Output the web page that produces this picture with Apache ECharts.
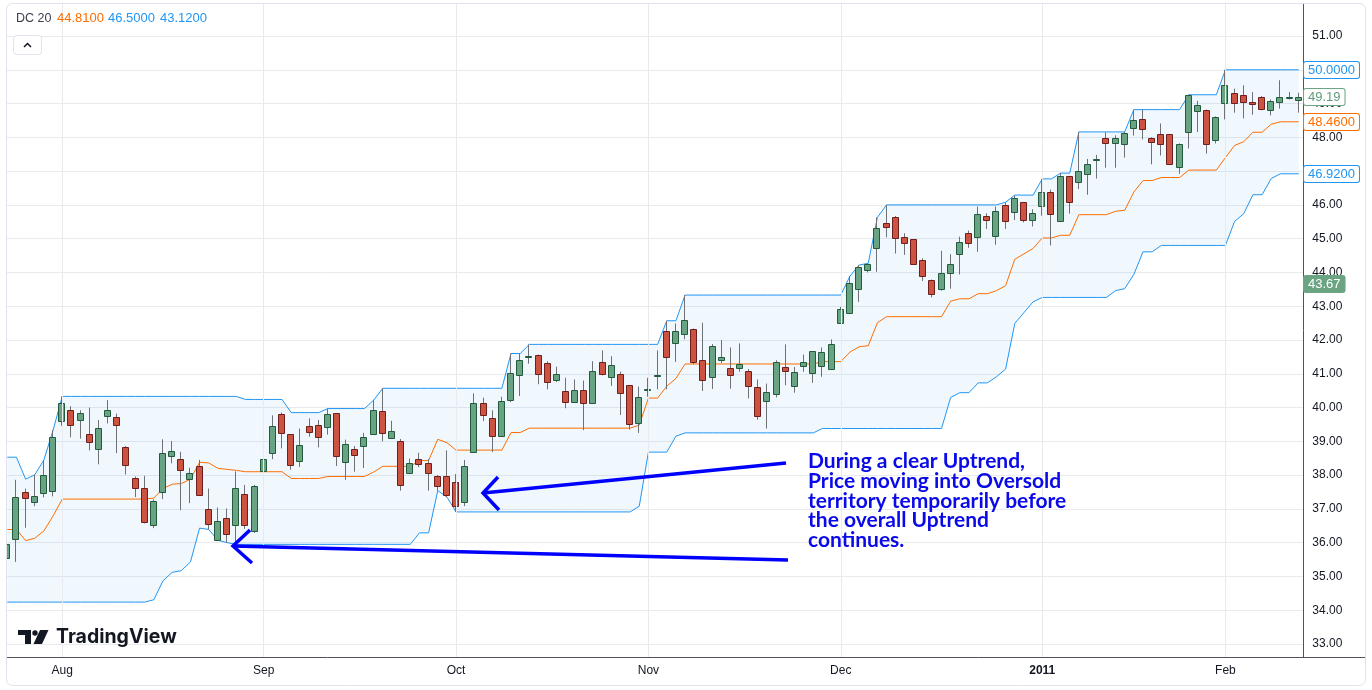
<!DOCTYPE html>
<html>
<head>
<meta charset="utf-8">
<title>DC 20</title>
<script src="https://cdn.jsdelivr.net/npm/echarts@6/dist/echarts.min.js"></script>
<style>
  html, body { margin: 0; padding: 0; background: #fff; }
  #chart { width: 1372px; height: 690px; }
</style>
</head>
<body>
<div id="chart"></div>
<script>
// trading days shown on the chart
const dates = [
  '2010-07-23','2010-07-26','2010-07-27','2010-07-28','2010-07-29','2010-07-30',
  '2010-08-02','2010-08-03','2010-08-04','2010-08-05','2010-08-06','2010-08-09','2010-08-10','2010-08-11','2010-08-12','2010-08-13',
  '2010-08-16','2010-08-17','2010-08-18','2010-08-19','2010-08-20','2010-08-23','2010-08-24','2010-08-25','2010-08-26','2010-08-27',
  '2010-08-30','2010-08-31',
  '2010-09-01','2010-09-02','2010-09-03','2010-09-07','2010-09-08','2010-09-09','2010-09-10','2010-09-13','2010-09-14','2010-09-15',
  '2010-09-16','2010-09-17','2010-09-20','2010-09-21','2010-09-22','2010-09-23','2010-09-24','2010-09-27','2010-09-28','2010-09-29','2010-09-30',
  '2010-10-01','2010-10-04','2010-10-05','2010-10-06','2010-10-07','2010-10-08','2010-10-11','2010-10-12','2010-10-13','2010-10-14',
  '2010-10-15','2010-10-18','2010-10-19','2010-10-20','2010-10-21','2010-10-22','2010-10-25','2010-10-26','2010-10-27','2010-10-28','2010-10-29',
  '2010-11-01','2010-11-02','2010-11-03','2010-11-04','2010-11-05','2010-11-08','2010-11-09','2010-11-10','2010-11-11','2010-11-12',
  '2010-11-15','2010-11-16','2010-11-17','2010-11-18','2010-11-19','2010-11-22','2010-11-23','2010-11-24','2010-11-26','2010-11-29','2010-11-30',
  '2010-12-01','2010-12-02','2010-12-03','2010-12-06','2010-12-07','2010-12-08','2010-12-09','2010-12-10','2010-12-13','2010-12-14',
  '2010-12-15','2010-12-16','2010-12-17','2010-12-20','2010-12-21','2010-12-22','2010-12-23','2010-12-27','2010-12-28','2010-12-29','2010-12-30','2010-12-31',
  '2011-01-03','2011-01-04','2011-01-05','2011-01-06','2011-01-07','2011-01-10','2011-01-11','2011-01-12','2011-01-13','2011-01-14',
  '2011-01-18','2011-01-19','2011-01-20','2011-01-21','2011-01-24','2011-01-25','2011-01-26','2011-01-27','2011-01-28','2011-01-31',
  '2011-02-01','2011-02-02','2011-02-03','2011-02-04','2011-02-07','2011-02-08','2011-02-09','2011-02-10','2011-02-11'
];

const open = [
  35.54,36.12,37.50,37.21,37.47,37.53,39.59,39.94,39.62,39.21,
  38.76,39.75,39.71,38.82,37.91,37.62,36.53,37.50,38.57,38.47,
  37.88,38.26,37.00,36.09,36.74,36.51,37.44,36.36,38.13,38.66,
  39.82,39.21,38.41,39.44,39.47,39.43,39.83,38.39,38.76,38.87,
  39.22,39.89,39.09,39.01,38.05,38.49,38.37,37.98,37.98,37.79,
  37.20,38.69,40.13,39.70,39.15,40.22,40.97,41.50,41.57,41.31,
  40.81,40.48,40.17,40.53,40.14,41.36,40.91,41.00,40.67,39.53,
  40.52,40.95,42.27,41.90,42.19,42.34,41.40,40.89,41.42,41.16,
  41.16,41.07,40.61,40.19,40.39,41.21,40.65,41.24,41.01,41.22,
  41.14,42.49,42.81,43.50,44.06,44.71,45.46,45.63,45.06,44.98,
  44.37,43.79,43.51,43.97,44.56,45.16,45.04,45.67,45.07,46.00,
  45.78,46.08,45.54,45.97,46.38,45.51,46.86,46.69,46.91,47.33,
  47.97,47.84,47.79,48.28,48.53,47.97,48.09,48.09,47.13,48.16,
  48.78,48.82,47.92,49.03,49.32,49.26,49.06,49.19,48.82,49.05,
  49.19,49.10
];
const high = [
  36.64,37.86,37.60,38.01,38.45,39.33,40.33,40.04,39.92,40.00,
  39.63,40.22,39.82,38.86,37.96,37.98,37.28,39.06,39.01,38.69,
  38.22,38.45,37.60,37.04,37.01,38.11,37.71,37.71,38.63,39.77,
  39.85,39.21,39.38,39.68,39.63,39.97,39.83,39.05,38.86,39.25,
  40.22,40.57,39.61,39.07,38.49,38.66,38.47,38.00,38.73,38.03,
  38.45,40.42,40.29,39.92,40.32,41.60,41.60,41.87,41.57,41.37,
  41.21,40.88,40.83,40.80,41.37,41.69,41.52,41.06,40.67,40.62,
  40.88,41.69,42.57,42.49,43.33,42.34,42.51,41.88,42.00,41.78,
  41.90,41.14,40.83,40.71,41.40,41.87,41.20,41.57,41.66,41.78,
  42.02,42.98,43.89,44.22,44.27,45.63,46.00,45.67,45.16,44.98,
  44.42,43.79,44.64,44.54,45.06,45.24,45.95,45.75,45.95,46.07,
  46.28,46.08,45.87,46.77,46.45,46.94,46.86,48.16,47.36,47.48,
  48.15,48.06,48.16,48.82,48.82,48.00,48.41,48.09,47.82,49.26,
  49.08,48.82,48.62,50.00,49.44,49.54,49.34,49.22,49.12,49.69,
  49.34,49.32
];
const low = [
  35.17,35.43,36.44,37.08,37.34,37.37,39.46,39.12,39.08,38.73,
  38.32,39.53,38.65,38.02,37.35,36.57,36.43,37.29,38.35,36.96,
  37.17,37.38,36.39,36.07,36.00,35.95,36.41,36.29,37.65,38.47,
  38.79,38.16,38.24,39.14,38.82,39.20,38.27,37.86,38.10,38.21,
  39.19,39.00,39.09,37.54,38.05,38.24,37.54,37.54,37.35,36.91,
  37.08,38.69,39.60,38.68,39.15,40.16,40.34,41.30,40.69,40.54,
  40.75,39.98,40.17,39.33,40.12,40.95,40.64,39.78,39.35,39.25,
  40.32,40.54,40.54,41.35,42.02,41.28,40.49,40.55,41.32,40.56,
  41.06,40.27,39.64,39.38,40.30,40.66,40.44,41.06,40.73,40.91,
  41.14,42.49,42.81,43.13,44.00,44.02,45.04,44.56,44.52,44.24,
  43.75,43.26,43.46,43.52,43.94,44.73,44.61,45.29,44.82,45.29,
  45.55,45.48,45.36,45.68,44.80,45.51,45.74,46.47,46.30,46.78,
  47.10,47.10,47.40,48.05,47.94,47.20,47.46,47.20,46.92,47.67,
  48.16,47.52,47.82,48.53,48.73,48.56,48.67,48.80,48.65,48.85,
  49.12,48.73
];
const close = [
  35.97,37.35,37.32,37.38,38.00,39.12,40.12,39.47,39.85,38.98,
  39.38,39.94,39.47,38.29,37.62,36.62,37.24,38.65,38.71,38.16,
  38.05,37.41,36.56,36.64,36.25,37.62,36.52,37.67,38.47,39.45,
  39.24,38.29,38.88,39.29,39.13,39.82,38.57,38.93,38.60,39.13,
  39.92,39.25,39.31,37.72,38.37,38.34,38.05,37.69,37.41,37.10,
  38.28,40.13,39.78,39.15,40.20,41.01,41.42,41.52,41.00,40.76,
  41.00,40.17,40.51,40.14,41.09,41.00,41.27,40.44,39.50,40.32,
  40.54,40.97,41.51,42.28,42.58,41.35,40.83,41.81,41.51,40.95,
  41.30,40.65,39.74,40.46,41.36,41.07,41.04,41.35,41.66,41.63,
  41.87,42.93,43.70,44.15,44.24,45.31,45.34,45.01,44.86,44.24,
  43.89,43.36,43.97,44.24,44.89,44.86,45.72,45.54,45.81,45.51,
  46.20,45.54,45.75,46.38,45.73,46.86,46.08,47.00,47.20,47.35,
  47.82,47.97,48.14,48.50,48.26,47.85,47.79,47.20,47.79,49.26,
  48.97,47.79,48.59,49.56,49.03,49.05,49.00,48.85,49.09,49.19,
  49.20,49.19
];

// Donchian channel (20) as plotted
const dcUpper = [
  38.53,38.53,37.88,38.01,38.45,39.33,40.33,40.33,40.33,40.33,
  40.33,40.33,40.33,40.33,40.33,40.33,40.33,40.33,40.33,40.33,
  40.33,40.33,40.33,40.33,40.33,40.33,40.24,40.24,40.24,40.24,
  40.24,39.85,39.85,39.85,39.85,39.97,39.97,39.97,39.97,39.97,
  40.22,40.57,40.57,40.57,40.57,40.57,40.57,40.57,40.57,40.57,
  40.57,40.57,40.57,40.57,40.57,41.60,41.60,41.87,41.87,41.87,
  41.87,41.87,41.87,41.87,41.87,41.87,41.87,41.87,41.87,41.87,
  41.87,41.87,42.57,42.57,43.33,43.33,43.33,43.33,43.33,43.33,
  43.33,43.33,43.33,43.33,43.33,43.33,43.33,43.33,43.33,43.33,
  43.33,43.33,43.89,44.22,44.27,45.63,46.00,46.00,46.00,46.00,
  46.00,46.00,46.00,46.00,46.00,46.00,46.00,46.00,46.00,46.08,
  46.29,46.29,46.29,46.77,46.77,46.94,46.94,48.16,48.16,48.16,
  48.16,48.16,48.16,48.82,48.82,48.82,48.82,48.82,48.82,49.26,
  49.26,49.26,49.26,50.00,50.00,50.00,50.00,50.00,50.00,50.00,
  50.00,50.00
];
const dcLower = [
  34.24,34.24,34.24,34.24,34.24,34.24,34.24,34.24,34.24,34.24,
  34.24,34.24,34.24,34.24,34.24,34.24,34.31,34.87,35.12,35.17,
  35.43,36.43,36.39,36.07,36.00,35.95,35.95,35.95,35.95,35.95,
  35.95,35.95,35.95,35.95,35.95,35.95,35.95,35.95,35.95,35.95,
  35.95,35.95,35.95,35.95,35.95,36.29,36.29,37.54,37.35,36.91,
  36.91,36.91,36.91,36.91,36.91,36.91,36.91,36.91,36.91,36.91,
  36.91,36.91,36.91,36.91,36.91,36.91,36.91,36.91,36.91,37.08,
  38.68,38.68,38.68,39.15,39.25,39.25,39.25,39.25,39.25,39.25,
  39.25,39.25,39.25,39.25,39.25,39.25,39.25,39.25,39.25,39.38,
  39.38,39.38,39.38,39.38,39.38,39.38,39.38,39.38,39.38,39.38,
  39.38,39.38,39.38,40.30,40.44,40.44,40.73,40.73,40.91,41.14,
  42.49,42.81,43.13,43.26,43.26,43.26,43.26,43.26,43.26,43.26,
  43.26,43.46,43.52,43.94,44.61,44.61,44.80,44.80,44.80,44.80,
  44.80,44.80,44.80,44.80,45.51,45.74,46.30,46.30,46.78,46.92,
  46.92,46.92
];
const dcBasis = [
  36.39,36.39,36.06,36.13,36.35,36.79,37.29,37.29,37.29,37.29,
  37.29,37.29,37.29,37.29,37.29,37.29,37.32,37.60,37.73,37.75,
  37.88,38.38,38.36,38.20,38.17,38.14,38.10,38.10,38.10,38.10,
  38.10,37.90,37.90,37.90,37.90,37.96,37.96,37.96,37.96,37.96,
  38.09,38.26,38.26,38.26,38.26,38.43,38.43,39.06,38.96,38.74,
  38.74,38.74,38.74,38.74,38.74,39.26,39.26,39.39,39.39,39.39,
  39.39,39.39,39.39,39.39,39.39,39.39,39.39,39.39,39.39,39.48,
  40.28,40.28,40.63,40.86,41.29,41.29,41.29,41.29,41.29,41.29,
  41.29,41.29,41.29,41.29,41.29,41.29,41.29,41.29,41.29,41.36,
  41.36,41.36,41.64,41.80,41.83,42.51,42.69,42.69,42.69,42.69,
  42.69,42.69,42.69,43.15,43.22,43.22,43.37,43.37,43.46,43.61,
  44.39,44.55,44.71,45.02,45.02,45.10,45.10,45.71,45.71,45.71,
  45.71,45.81,45.84,46.38,46.72,46.72,46.81,46.81,46.81,47.03,
  47.03,47.03,47.03,47.40,47.76,47.87,48.15,48.15,48.39,48.46,
  48.46,48.46
];

const yTicks = [33, 34, 35, 36, 37, 38, 39, 40, 41, 42, 43, 44, 45, 46, 47, 48, 49, 50, 51];
const monthNames = ['Jan', 'Feb', 'Mar', 'Apr', 'May', 'Jun', 'Jul', 'Aug', 'Sep', 'Oct', 'Nov', 'Dec'];

// labels on the price scale
const tagValues = [50.00, 49.19, 48.46, 46.92, 43.67];
const tagTexts = ['50.0000', '49.19', '48.4600', '46.9200', '43.67'];

const legendName = 'DC 20';
const legendValues = ['44.8100', '46.5000', '43.1200'];

const noteLines = [
  'During a clear Uptrend,',
  'Price moving into Oversold',
  'territory temporarily before',
  'the overall Uptrend',
  'continues.'
];

const FONT = '"Liberation Sans", Arial, sans-serif';
const UP_FILL = '#68a384', UP_LINE = '#245a3c';
const DN_FILL = '#cc5242', DN_LINE = '#6e1f1c';
const WICK = '#6f7177';
const BLUE = '#2196f3', ORANGE = '#ff6d00';
const GRID = '#e8eaee';
const NOTE = '#0a0ae8';

const N = dates.length;
const isMonthStart = i => i > 0 && dates[i].slice(0, 7) !== dates[i - 1].slice(0, 7);
const monthStarts = dates.filter((d, i) => isMonthStart(i));

const candleData = dates.map((d, i) => [i, open[i], close[i], low[i], high[i]]);

function renderCandle(params, api) {
  const i = api.value(0);
  const o = api.value(1), c = api.value(2), l = api.value(3), h = api.value(4);
  const pO = api.coord([i, o]);
  const pC = api.coord([i, c]);
  const pL = api.coord([i, l]);
  const pH = api.coord([i, h]);
  const cx = Math.round(pO[0]);
  const up = c >= o;
  let y0 = Math.round(Math.min(pO[1], pC[1])) + 0.5;
  let y1 = Math.round(Math.max(pO[1], pC[1])) + 0.5;
  if (y1 - y0 < 1) y1 = y0 + 1;
  return {
    type: 'group',
    children: [
      {
        type: 'line',
        shape: { x1: cx - 0.5, y1: pH[1], x2: cx - 0.5, y2: pL[1] },
        style: { stroke: WICK, lineWidth: 1 }
      },
      {
        type: 'rect',
        shape: { x: cx - 3.5, y: y0, width: 6, height: y1 - y0 },
        style: { fill: up ? UP_FILL : DN_FILL, stroke: up ? UP_LINE : DN_LINE, lineWidth: 1 }
      }
    ]
  };
}

// filled area between upper and lower band
function renderBand(params, api) {
  const top = [], bot = [];
  for (let i = 0; i < N; i++) {
    top.push(api.coord([i, dcUpper[i]]));
    bot.push(api.coord([i, dcLower[i]]));
  }
  return {
    type: 'polygon',
    silent: true,
    shape: { points: top.concat(bot.reverse()) },
    style: { fill: 'rgba(33,150,243,0.065)' }
  };
}

// price-scale tags, placed through the y axis
function renderTag(params, api) {
  const k = params.dataIndex;
  const p = api.coord([N - 1, api.value(1)]);
  const s = tagStyles[k];
  return {
    type: 'text',
    x: 1304,
    y: Math.round(p[1]),
    style: {
      text: tagTexts[k],
      fill: s.color,
      backgroundColor: s.backgroundColor,
      borderColor: s.borderColor,
      borderWidth: 1,
      borderRadius: 2,
      padding: [2, 4, 1, 4],
      font: '13px ' + FONT,
      align: 'left',
      verticalAlign: 'middle'
    }
  };
}

const tagStyles = [
  { color: BLUE, backgroundColor: '#fff', borderColor: BLUE },
  { color: '#5f9c7b', backgroundColor: '#fff', borderColor: '#6ba583' },
  { color: ORANGE, backgroundColor: '#fff', borderColor: ORANGE },
  { color: BLUE, backgroundColor: '#fff', borderColor: BLUE },
  { color: '#fff', backgroundColor: '#6aa483', borderColor: '#6aa483' }
];

const chart = echarts.init(document.getElementById('chart'));

chart.setOption({
  animation: false,
  backgroundColor: '#fff',
  grid: { left: 2.7, right: 68.7, top: 4, bottom: 33, outerBoundsMode: 'none' },
  xAxis: {
    type: 'category',
    data: dates,
    boundaryGap: true,
    axisLine: { lineStyle: { color: '#50535e', width: 1 } },
    axisTick: { show: false },
    splitLine: { show: false },
    axisLabel: {
      interval: i => isMonthStart(i),
      margin: 8,
      color: '#131722',
      fontFamily: FONT,
      fontSize: 12,
      formatter: v => {
        const m = +v.slice(5, 7);
        return m === 1 ? '{yr|' + v.slice(0, 4) + '}' : monthNames[m - 1];
      },
      rich: { yr: { fontWeight: 'bold', fontFamily: FONT, fontSize: 12, color: '#131722' } }
    }
  },
  yAxis: {
    type: 'value',
    position: 'right',
    min: 32.615,
    max: 51.947,
    axisLine: { show: true, lineStyle: { color: '#50535e', width: 1 } },
    axisTick: { show: false, customValues: yTicks },
    splitLine: { show: true, lineStyle: { color: GRID, width: 1 } },
    axisLabel: {
      customValues: yTicks,
      formatter: v => v.toFixed(2),
      color: '#131722',
      fontFamily: FONT,
      fontSize: 12,
      margin: 9,
      align: 'left'
    }
  },
  series: [
    {
      type: 'custom',
      name: 'band',
      silent: true,
      z: 1,
      renderItem: renderBand,
      data: [[0, dcUpper[0]]]
    },
    {
      type: 'line',
      name: 'vgrid',
      silent: true,
      z: 1,
      data: [],
      markLine: {
        silent: true,
        symbol: ['none', 'none'],
        label: { show: false },
        lineStyle: { color: GRID, width: 1, type: 'solid' },
        data: monthStarts.map(d => ({ xAxis: d }))
      }
    },
    {
      type: 'line', name: 'Upper', data: dcUpper, silent: true, z: 2,
      showSymbol: false, symbol: 'none', lineStyle: { color: BLUE, width: 1 }
    },
    {
      type: 'line', name: 'Lower', data: dcLower, silent: true, z: 2,
      showSymbol: false, symbol: 'none', lineStyle: { color: BLUE, width: 1 }
    },
    {
      type: 'line', name: 'Basis', data: dcBasis, silent: true, z: 2,
      showSymbol: false, symbol: 'none', lineStyle: { color: ORANGE, width: 1 }
    },
    {
      type: 'custom',
      name: 'Price',
      z: 3,
      renderItem: renderCandle,
      encode: { x: 0, y: [1, 2, 3, 4] },
      data: candleData
    },
    {
      type: 'custom',
      name: 'tags',
      silent: true,
      clip: false,
      z: 6,
      renderItem: renderTag,
      encode: { x: 0, y: 1 },
      data: tagValues.map(v => [N - 1, v])
    }
  ],
  graphic: [
    // left margin mask + outer frame
    { type: 'rect', z: 100, silent: true, shape: { x: 0, y: 0, width: 6.5, height: 690 }, style: { fill: '#fff' } },
    { type: 'rect', z: 101, silent: true, shape: { x: 6.5, y: 3.5, width: 1359, height: 682, r: 6 }, style: { fill: 'none', stroke: '#e0e3eb', lineWidth: 1 } },
    { type: 'line', z: 101, silent: true, shape: { x1: 1303, y1: 657.5, x2: 1365, y2: 657.5 }, style: { stroke: '#50535e', lineWidth: 1 } },

    // indicator legend
    { type: 'text', z: 110, left: 16, top: 12, style: { text: legendName, font: '12.5px ' + FONT, fill: '#3d404a' } },
    { type: 'text', z: 110, left: 57, top: 12, style: { text: legendValues[0], font: '13px ' + FONT, fill: ORANGE } },
    { type: 'text', z: 110, left: 108, top: 12, style: { text: legendValues[1], font: '13px ' + FONT, fill: BLUE } },
    { type: 'text', z: 110, left: 160, top: 12, style: { text: legendValues[2], font: '13px ' + FONT, fill: BLUE } },
    { type: 'rect', z: 110, shape: { x: 13.5, y: 35.5, width: 28, height: 19, r: 3 }, style: { fill: '#fff', stroke: '#e0e3eb', lineWidth: 1 } },
    { type: 'polyline', z: 111, shape: { points: [[24, 47], [27.5, 43.5], [31, 47]] }, style: { stroke: '#131722', lineWidth: 1.5, fill: null } },

    // TradingView mark
    { type: 'rect', z: 110, shape: { x: 18, y: 630, width: 13, height: 5 }, style: { fill: '#131722' } },
    { type: 'rect', z: 110, shape: { x: 25, y: 630, width: 6, height: 14 }, style: { fill: '#131722' } },
    { type: 'circle', z: 110, shape: { cx: 35, cy: 633, r: 2.7 }, style: { fill: '#131722' } },
    { type: 'polygon', z: 110, shape: { points: [[40, 630], [48.5, 630], [42, 644], [33.5, 644]] }, style: { fill: '#131722' } },
    { type: 'text', z: 110, left: 56, top: 627, style: { text: 'TradingView', font: 'bold 19.5px Inter, ' + FONT, fill: '#131722' } },

    // annotation
    { type: 'text', z: 120, left: 808, top: 451, style: { text: noteLines.join('\n'), font: 'bold 21px Lato, ' + FONT, fill: NOTE, lineHeight: 19.7 } },
    { type: 'polyline', z: 120, shape: { points: [[786, 463], [483, 493]] }, style: { stroke: '#0000ff', lineWidth: 3.5, fill: null } },
    { type: 'polyline', z: 120, shape: { points: [[498, 477], [483, 493], [499, 510]] }, style: { stroke: '#0000ff', lineWidth: 3.5, fill: null, lineJoin: 'miter' } },
    { type: 'polyline', z: 120, shape: { points: [[788, 560], [233, 546]] }, style: { stroke: '#0000ff', lineWidth: 3.5, fill: null } },
    { type: 'polyline', z: 120, shape: { points: [[250, 530], [233, 546], [252, 563]] }, style: { stroke: '#0000ff', lineWidth: 3.5, fill: null, lineJoin: 'miter' } }
  ]
});
</script>
</body>
</html>
